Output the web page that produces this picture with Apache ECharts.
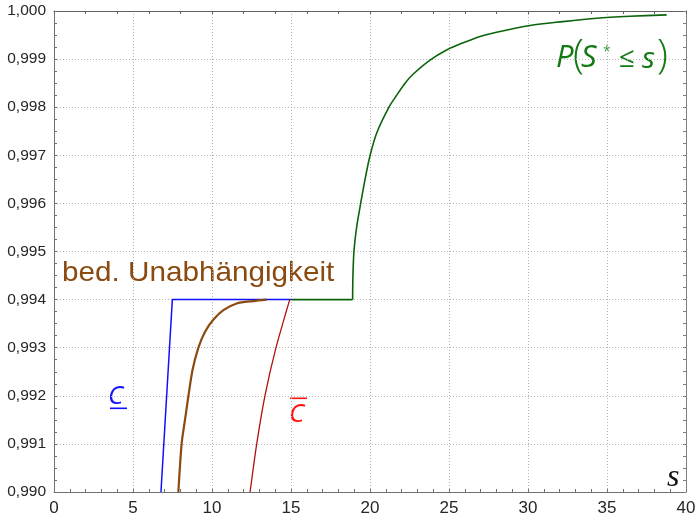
<!DOCTYPE html>
<html>
<head>
<meta charset="utf-8">
<script src="https://cdn.jsdelivr.net/npm/echarts@6/dist/echarts.min.js"></script>
<style>html,body{margin:0;padding:0;background:#fff}#c{width:695px;height:516px}</style>
</head>
<body>
<div id="c"></div>
<script>
// x: s, y: probability
const xTicks = [0, 5, 10, 15, 20, 25, 30, 35, 40];
const yTicks = [0.990, 0.991, 0.992, 0.993, 0.994, 0.995, 0.996, 0.997, 0.998, 0.999, 1.000];

const lowerX = [6.77, 7.49, 15.0];
const lowerY = [0.990, 0.994, 0.994];

const indepX = [7.87, 8.08, 8.29, 8.50, 8.77, 9.13, 9.56, 10.08, 10.72, 11.56, 12.60, 13.46];
const indepY = [0.9900, 0.99101, 0.99150, 0.99198, 0.99254, 0.99299, 0.99333, 0.99358, 0.99378, 0.99392, 0.99397, 0.99400];

const upperX = [12.41, 12.83, 13.35, 14.05, 14.92];
const upperY = [0.990, 0.991, 0.992, 0.993, 0.994];

const flatX = [15.0, 18.90];
const flatY = [0.9940, 0.9940];

const exactX = [18.90, 18.92, 18.99, 19.16, 19.41, 19.68, 20.00, 20.42, 21.20, 21.69, 22.22, 22.74, 23.80, 24.85, 25.91, 26.96, 28.01, 30.13, 32.20, 34.35, 36.46, 38.78];
const exactY = [0.99400, 0.99450, 0.99503, 0.99552, 0.99600, 0.99649, 0.99699, 0.99746, 0.99800, 0.99825, 0.99850, 0.99869, 0.99898, 0.99919, 0.99934, 0.99947, 0.99956, 0.99970, 0.99978, 0.99985, 0.99989, 0.99992];

const zip = (xs, ys) => xs.map((x, i) => [x, ys[i]]);

const chart = echarts.init(document.getElementById('c'), null, {renderer: 'canvas'});
const axisCol = '#707070';
const labelFont = 'Liberation Sans';
const green = '#137a13';

chart.setOption({
  animation: false,
  grid: {left: 54, right: 9, top: 11, bottom: 24, containLabel: false, outerBoundsMode: 'none'},
  xAxis: [{
    type: 'value', min: xTicks[0], max: xTicks[xTicks.length - 1], interval: 5,
    axisLine: {onZero: false, lineStyle: {color: axisCol, width: 1}},
    axisTick: {inside: true, length: 3, lineStyle: {color: axisCol}},
    minorTick: {show: true, splitNumber: 5, length: 3, lineStyle: {color: axisCol}},
    axisLabel: {color: '#262626', fontSize: 17, fontFamily: labelFont, margin: 8},
    splitLine: {show: true, lineStyle: {type: [1, 2], color: '#b4b4b4', width: 1}}
  }, {
    type: 'value', position: 'top', min: 0, max: 40, interval: 2,
    axisLine: {onZero: false, lineStyle: {color: '#606060', width: 1}},
    axisTick: {inside: true, length: 3, lineStyle: {color: '#606060'}},
    axisLabel: {show: false}, splitLine: {show: false}
  }],
  yAxis: [{
    type: 'value', min: 0.990, max: 1.000, interval: 0.001,
    axisLine: {show: true, onZero: false, lineStyle: {color: axisCol, width: 1}},
    axisTick: {show: true, inside: true, length: 3, lineStyle: {color: axisCol}},
    minorTick: {show: true, splitNumber: 4, length: 3, lineStyle: {color: axisCol}},
    axisLabel: {color: '#262626', fontSize: 15.5, fontFamily: labelFont, margin: 8,
      formatter: v => v.toFixed(3).replace('.', ',')},
    splitLine: {show: true, lineStyle: {type: [1, 2], color: '#b4b4b4', width: 1}}
  }, {
    type: 'value', position: 'right', min: 0.990, max: 1.000, interval: 0.00025,
    axisLine: {show: true, onZero: false, lineStyle: {color: '#808080', width: 1}},
    axisTick: {show: true, inside: true, length: 3, lineStyle: {color: '#808080'}},
    axisLabel: {show: false}, splitLine: {show: false}
  }],
  series: [
    {type: 'line', data: zip(flatX, flatY), showSymbol: false,
      lineStyle: {color: '#0b640b', width: 1.6}, z: 2},
    {type: 'line', data: zip(exactX, exactY), showSymbol: false, smooth: 0.3,
      lineStyle: {color: '#0b640b', width: 1.6}, z: 2},
    {type: 'line', data: zip(lowerX, lowerY), showSymbol: false,
      lineStyle: {color: '#1010ff', width: 1.5}, z: 3},
    {type: 'line', data: zip(upperX, upperY), showSymbol: false, smooth: 0.25,
      lineStyle: {color: '#b01010', width: 1.3}, z: 3},
    {type: 'line', data: zip(indepX, indepY), showSymbol: false, smooth: 0.25,
      lineStyle: {color: '#8a4a10', width: 2.2}, z: 4}
  ],
  graphic: [
    {type: 'text', x: 62, y: 259.5, scaleX: 1.06, style: {text: 'bed. Unabhängigkeit', fill: '#8a4a10',
      font: '28px "Liberation Sans"'}},
    // P(S* <= s)
    {type: 'text', x: 556, y: 43, style: {text: 'P', fill: green, font: 'italic 31px "Open Sans"'}},
    {type: 'text', x: 573, y: 37, style: {text: '(', fill: green, font: '300 40px "Open Sans"'}},
    {type: 'text', x: 581, y: 43, style: {text: 'S', fill: green, font: 'italic 31px "Open Sans"'}},
    {type: 'text', x: 603, y: 45, style: {text: '*', fill: '#3aa03a', font: '14px "Open Sans"'}},
    {type: 'text', x: 619, y: 45, style: {text: '≤', fill: green, font: '28px "Open Sans"'}},
    {type: 'text', x: 642, y: 44, style: {text: 's', fill: green, font: 'italic 30px "Open Sans"'}},
    {type: 'text', x: 657, y: 37, style: {text: ')', fill: green, font: '300 40px "Open Sans"'}},
    // underlined C
    {type: 'text', x: 108, y: 384, style: {text: 'C', fill: '#1010ff', font: 'italic 26px "Open Sans"'}},
    {type: 'rect', shape: {x: 110, y: 407.5, width: 17, height: 1.6}, style: {fill: '#1010ff'}},
    // overlined C
    {type: 'text', x: 289, y: 402, style: {text: 'C', fill: '#ff1010', font: 'italic 26px "Open Sans"'}},
    {type: 'rect', shape: {x: 290, y: 397.5, width: 17, height: 1.6}, style: {fill: '#ff1010'}},
    // axis name s
    {type: 'text', x: 667, y: 462, style: {text: 's', fill: '#111', font: 'italic 32px "Liberation Serif"'}}
  ]
});
</script>
</body>
</html>
